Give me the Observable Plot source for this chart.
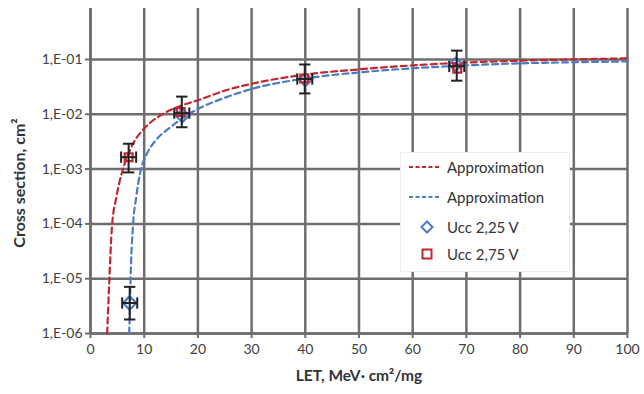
<!DOCTYPE html>
<html>
<head>
<meta charset="utf-8">
<script src="https://cdn.jsdelivr.net/npm/d3@7"></script>
<script src="https://cdn.jsdelivr.net/npm/@observablehq/plot@0.6"></script>
<style>
  body { margin: 0; background: #fff; font-family: Lato, "Open Sans", sans-serif; }
  #wrap { position: relative; width: 644px; height: 394px; }
  #legend { position: absolute; left: 400px; top: 152px; width: 168px; height: 118px;
    background: #fff; border: 1px solid #eee; font-size: 15px; color: #333; }
  .row { position: absolute; left: 0; height: 20px; display: flex; align-items: center; }
  .row svg { margin-left: 6px; margin-right: 8px; }
</style>
</head>
<body>
<div id="wrap">
  <div id="chart"></div>
  <div id="legend">
    <div class="row" style="top:4px"><svg width="32" height="10"><line x1="2" y1="5" x2="32" y2="5" stroke="#c0282d" stroke-width="2" stroke-dasharray="4,2.5"/></svg>Approximation</div>
    <div class="row" style="top:34px"><svg width="32" height="10"><line x1="2" y1="5" x2="32" y2="5" stroke="#4a7cc6" stroke-width="2" stroke-dasharray="4,2.5"/></svg>Approximation</div>
    <div class="row" style="top:64px"><svg width="32" height="14"><path d="M20,1.5 L25.5,7 L20,12.5 L14.5,7 Z" fill="none" stroke="#4a7cc6" stroke-width="2"/></svg>Ucc 2,25 V</div>
    <div class="row" style="top:91px"><svg width="32" height="14"><rect x="15.5" y="2.5" width="9" height="9" fill="none" stroke="#c0282d" stroke-width="2"/></svg>Ucc 2,75 V</div>
  </div>
</div>
<script>
// Tick values and labels
const xTicks = [0, 10, 20, 30, 40, 50, 60, 70, 80, 90, 100];
const yTicks = [1e-6, 1e-5, 1e-4, 1e-3, 1e-2, 1e-1];
const yTickLabels = ["1,E-06", "1,E-05", "1,E-04", "1,E-03", "1,E-02", "1,E-01"];

// Approximation curve (Ucc 2,75 V)
const redLET   = [3.1, 3.3, 3.5, 4.0, 4.8, 5.9, 6.8, 8.0, 10, 13, 17, 20, 25, 30, 40, 50, 60, 70, 80, 90, 100];
const redSigma = [1e-6, 3e-6, 9e-6, 9e-5, 3e-4, 9e-4, 1.65e-3, 3.0e-3, 5.5e-3, 9.5e-3, 1.45e-2, 1.8e-2, 2.7e-2, 3.6e-2, 5.3e-2, 6.6e-2, 7.8e-2, 8.8e-2, 9.5e-2, 1.0e-1, 1.05e-1];

// Approximation curve (Ucc 2,25 V)
const blueLET   = [7.2, 7.3, 7.45, 7.9, 8.5, 9.3, 10.5, 12.1, 14.9, 17, 20, 25, 30, 40, 50, 60, 70, 80, 90, 100];
const blueSigma = [1e-6, 2e-6, 9e-6, 9e-5, 3e-4, 9e-4, 1.9e-3, 3.3e-3, 5.8e-3, 8.3e-3, 1.25e-2, 2.0e-2, 2.9e-2, 4.5e-2, 5.8e-2, 6.9e-2, 7.8e-2, 8.5e-2, 8.9e-2, 9.2e-2];

// Measured points
const blueLETpts   = [7.3, 17.1, 40.0, 68.0];
const blueSigmaPts = [3.6e-6, 9.5e-3, 4.3e-2, 8.1e-2];
const redLETpts    = [7.1, 16.8, 39.8, 68.3];
const redSigmaPts  = [1.65e-3, 1.1e-2, 4.5e-2, 6.8e-2];

// Error bars
const errLET   = [7.1, 7.3, 17.0, 39.9, 68.2];
const errSigma = [1.65e-3, 3.6e-6, 1.05e-2, 4.4e-2, 7.5e-2];
const errLo    = [8.7e-4, 1.8e-6, 5.8e-3, 2.4e-2, 4.1e-2];
const errHi    = [2.9e-3, 7.1e-6, 2.1e-2, 8.1e-2, 1.45e-1];
const errLETlo = [5.7, 5.9, 15.6, 38.5, 66.8];
const errLEThi = [8.5, 8.7, 18.4, 41.3, 69.6];

const red = "#c0282d", blue = "#4a7cc6", gridC = "#6e6e6e";

const redCurve  = redLET.map((x, i) => ({x, y: redSigma[i]}));
const blueCurve = blueLET.map((x, i) => ({x, y: blueSigma[i]}));
const bluePts = blueLETpts.map((x, i) => ({x, y: blueSigmaPts[i]}));
const redPts  = redLETpts.map((x, i) => ({x, y: redSigmaPts[i]}));
const errs = errLET.map((x, i) => ({x, y: errSigma[i], lo: errLo[i], hi: errHi[i], xlo: errLETlo[i], xhi: errLEThi[i]}));

const hcap = {draw(ctx, size) { const r = Math.sqrt(size); ctx.moveTo(-r, 0); ctx.lineTo(r, 0); }};
const vcap = {draw(ctx, size) { const r = Math.sqrt(size); ctx.moveTo(0, -r); ctx.lineTo(0, r); }};

const chart = Plot.plot({
  width: 644,
  height: 394,
  marginLeft: 90,
  marginRight: 17,
  marginTop: 8,
  marginBottom: 61,
  style: {fontFamily: "Lato, 'Open Sans', sans-serif", fontSize: "13.5px", color: "#404040", background: "#fff"},
  x: {domain: [0, 100], ticks: xTicks, label: null},
  y: {type: "log", domain: [1e-6, 0.851], ticks: yTicks, label: null},
  marks: [
    Plot.gridX(xTicks, {stroke: gridC, strokeOpacity: 1, strokeWidth: 2.5}),
    Plot.gridY(yTicks, {stroke: gridC, strokeOpacity: 1, strokeWidth: 2.5}),
    Plot.ruleX([0], {stroke: gridC, strokeWidth: 2.5}),
    Plot.ruleY([1e-6], {stroke: gridC, strokeWidth: 2.5}),
    Plot.axisX(xTicks, {tickSize: 5, tickPadding: 6, stroke: gridC, strokeWidth: 2, fill: "#404040", fontSize: 14}),
    Plot.axisY(yTicks, {tickSize: 5, tickPadding: 3, stroke: gridC, strokeWidth: 2, fill: "#404040", fontSize: 14,
      tickFormat: d => yTickLabels[yTicks.indexOf(d)]}),
    Plot.line(blueCurve, {x: "x", y: "y", stroke: blue, strokeWidth: 2.2, strokeDasharray: "6,4", curve: "monotone-x"}),
    Plot.line(redCurve, {x: "x", y: "y", stroke: red, strokeWidth: 2.2, strokeDasharray: "6,4", curve: "monotone-x"}),
    Plot.dot(bluePts, {x: "x", y: "y", symbol: "diamond2", r: 6, stroke: blue, strokeWidth: 2.2, fill: "none"}),
    Plot.dot(redPts, {x: "x", y: "y", symbol: "square2", r: 5, stroke: red, strokeWidth: 2.2, fill: "none"}),
    Plot.ruleX(errs, {x: "x", y1: "lo", y2: "hi", stroke: "#222", strokeWidth: 2}),
    Plot.ruleY(errs, {y: "y", x1: "xlo", x2: "xhi", stroke: "#222", strokeWidth: 2}),
    Plot.dot(errs, {x: "x", y: "lo", symbol: hcap, r: 3.2, stroke: "#222", strokeWidth: 2}),
    Plot.dot(errs, {x: "x", y: "hi", symbol: hcap, r: 3.2, stroke: "#222", strokeWidth: 2}),
    Plot.dot(errs, {x: "xlo", y: "y", symbol: vcap, r: 3.2, stroke: "#222", strokeWidth: 2}),
    Plot.dot(errs, {x: "xhi", y: "y", symbol: vcap, r: 3.2, stroke: "#222", strokeWidth: 2}),
    Plot.text(["LET, MeV· cm²/mg"], {frameAnchor: "bottom", dy: 47, fontWeight: "bold", fontSize: 15.5, fill: "#333"}),
    Plot.text(["Cross section, cm²"], {frameAnchor: "left", textAnchor: "middle", dx: -71, dy: 12, rotate: -90, fontWeight: "bold", fontSize: 16, fill: "#333"})
  ]
});
document.getElementById("chart").appendChild(chart);
</script>
</body>
</html>
